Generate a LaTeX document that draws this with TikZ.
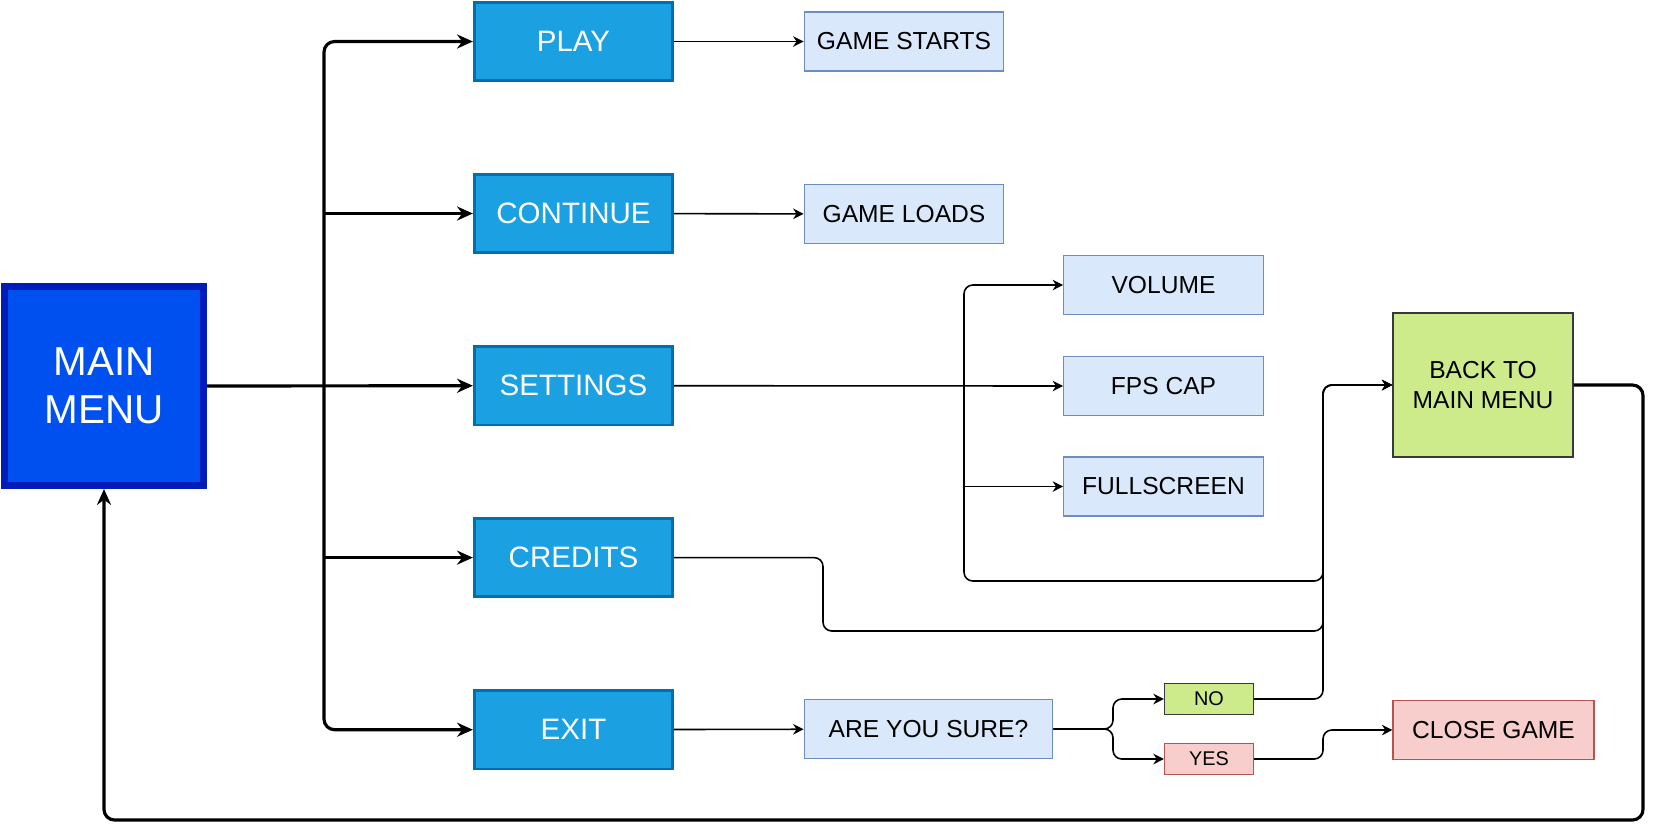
\documentclass[tikz,border=0pt]{standalone}
\usepackage{fontspec}
\setmainfont{Liberation Sans}
\usetikzlibrary{arrows,arrows.meta}

\definecolor{mainfill}{HTML}{0050EF}
\definecolor{mainborder}{HTML}{001DBC}
\definecolor{optfill}{HTML}{1BA1E2}
\definecolor{optborder}{HTML}{006EAF}
\definecolor{infofill}{HTML}{DAE8FC}
\definecolor{infoborder}{HTML}{6C8EBF}
\definecolor{okfill}{HTML}{CDEB8B}
\definecolor{okborder}{HTML}{36393D}
\definecolor{quitfill}{HTML}{F8CECC}
\definecolor{quitborder}{HTML}{B85450}

\begin{document}
\begin{tikzpicture}[x=0.02cm,y=-0.02cm,
mainbox/.style={draw=mainborder,fill=mainfill,line width=3.8pt,text=white,align=center,
  minimum width=3.99cm,minimum height=3.99cm,font=\fontsize{23}{27}\selectfont},
option/.style={draw=optborder,fill=optfill,line width=1.6pt,text=white,
  minimum width=3.97cm,minimum height=1.57cm,font=\fontsize{16.8}{20}\selectfont},
info/.style={draw=infoborder,fill=infofill,line width=0.7pt,
  minimum width=3.99cm,minimum height=1.18cm,font=\fontsize{14}{17}\selectfont},
answer/.style={line width=0.7pt,minimum width=1.78cm,minimum height=0.62cm,
  inner sep=0pt,font=\fontsize{11.3}{13}\selectfont},
arrow/.style={-{Stealth[length=6pt,width=6pt]},line width=0.9pt,rounded corners=5pt},
thickarrow/.style={-{Stealth[length=9pt,width=8pt]},line width=1.8pt,rounded corners=6pt} ]

\useasboundingbox (0,0) rectangle (1655,833);

\node[mainbox](main) at (104,386) {MAIN\\MENU};

\node[option](play) at (573.5,41.5) {PLAY};
\node[option](cont) at (573.5,213.5) {CONTINUE};
\node[option](settings) at (573.5,385.7) {SETTINGS};
\node[option](credits) at (573.5,557.6) {CREDITS};
\node[option](exit) at (573.5,729.7) {EXIT};

\node[info](starts) at (904,41.5) {GAME STARTS};
\node[info](loads) at (904,214) {GAME LOADS};
\node[info](volume) at (1163.5,285) {VOLUME};
\node[info](fps) at (1163.5,386) {FPS CAP};
\node[info](fullscreen) at (1163.5,486.5) {FULLSCREEN};
\node[info,minimum width=4.97cm](sure) at (928.5,729) {ARE YOU SURE?};

\node[answer,draw=okborder,fill=okfill](no) at (1209,699) {NO};
\node[answer,draw=quitborder,fill=quitfill](yes) at (1209,759) {YES};

\node[draw=okborder,fill=okfill,line width=0.7pt,align=center,minimum width=3.6cm,
  minimum height=2.88cm,font=\fontsize{14}{17}\selectfont](back) at (1483,385) {BACK TO\\MAIN MENU};
\node[info,draw=quitborder,fill=quitfill,minimum width=4.02cm,minimum height=1.19cm](close) at (1493.5,730) {CLOSE GAME};

\coordinate (trunk) at (324,386);
\coordinate (sb) at (964,386);
\coordinate (sbot) at (964,581);
\coordinate (cbot) at (823,631);
\coordinate (bk) at (1323,385);
\coordinate (split) at (1113,729);
\coordinate (rt) at (1643,820);

% main menu to the options
\draw[thickarrow] (main.east) -- (settings.west);
\draw[thickarrow] (trunk) |- (play.west);
\draw[thickarrow] (cont.west -| trunk) -- (cont.west);
\draw[thickarrow] (credits.west -| trunk) -- (credits.west);
\draw[thickarrow] (trunk) |- (exit.west);

\draw[arrow] (play) -- (starts);
\draw[arrow] (cont) -- (loads);
\draw[arrow] (exit) -- (sure);

% settings
\draw[arrow] (settings.east) -- (fps.west);
\draw[arrow] (sb) |- (volume.west);
\draw[arrow] (fullscreen.west -| sb) -- (fullscreen.west);
\draw[arrow] (sb) -- (sbot) -| (bk) -- (back.west);
\draw[arrow] (credits.east) -| (cbot) -| (bk) -- (back.west);

% exit
\draw[arrow] (sure.east) -- (split) |- (no.west);
\draw[arrow] (sure.east) -- (split) |- (yes.west);
\draw[arrow] (no.east) -| (bk) -- (back.west);
\draw[arrow] (yes.east) -- (yes.east -| bk) |- (close.west);

\draw[thickarrow] (back.east) -| (rt) -| (main.south);
\end{tikzpicture}
\end{document}
